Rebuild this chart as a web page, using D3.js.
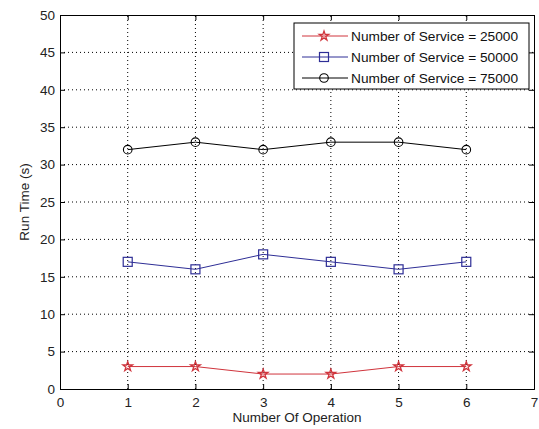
<!DOCTYPE html>
<html>
<head>
<meta charset="utf-8">
<script src="https://cdn.jsdelivr.net/npm/d3@7"></script>
<style>
  html, body { margin: 0; padding: 0; background: #fff; }
  svg { display: block; font-family: "Liberation Sans", Arial, sans-serif; }
</style>
</head>
<body>
<svg id="chart" width="539" height="429"></svg>
<script>
// Run time per operation for three service counts
const operations = [1, 2, 3, 4, 5, 6];
const run25000 = [3, 3, 2, 2, 3, 3];
const run50000 = [17, 16, 18, 17, 16, 17];
const run75000 = [32, 33, 32, 33, 33, 32];
const seriesNames = [
  "Number of Service = 25000",
  "Number of Service = 50000",
  "Number of Service = 75000"
];
const xTicks = [0, 1, 2, 3, 4, 5, 6, 7];
const yTicks = [0, 5, 10, 15, 20, 25, 30, 35, 40, 45, 50];

const series = [
  { name: seriesNames[0], values: run25000, color: "#d0343c", marker: "star" },
  { name: seriesNames[1], values: run50000, color: "#2e2e96", marker: "square" },
  { name: seriesNames[2], values: run75000, color: "#000000", marker: "circle" }
];

const svg = d3.select("#chart");
const m = { left: 60, right: 5, top: 15, bottom: 40 };
const W = 539, H = 429;
const x = d3.scaleLinear().domain([0, 7]).range([m.left, W - m.right]);
const y = d3.scaleLinear().domain([0, 50]).range([H - m.bottom, m.top]);

// dotted grid
const grid = svg.append("g");
xTicks.slice(1, -1).forEach(t => {
  grid.append("line").attr("x1", x(t)).attr("x2", x(t))
    .attr("y1", y(0)).attr("y2", y(50))
    .attr("stroke", "#000").attr("stroke-width", 1).attr("stroke-dasharray", "1,3");
});
yTicks.slice(1, -1).forEach(t => {
  grid.append("line").attr("x1", x(0)).attr("x2", x(7))
    .attr("y1", y(t)).attr("y2", y(t))
    .attr("stroke", "#000").attr("stroke-width", 1).attr("stroke-dasharray", "1,3");
});

// axes with inward ticks on all four sides
const fs = "13.5px";
const axB = svg.append("g").attr("transform", `translate(0,${y(0)})`)
  .call(d3.axisBottom(x).tickValues(xTicks).tickSize(-5).tickPadding(8).tickFormat(d3.format("d")));
const axL = svg.append("g").attr("transform", `translate(${x(0)},0)`)
  .call(d3.axisLeft(y).tickValues(yTicks).tickSize(-5).tickPadding(5).tickFormat(d3.format("d")));
const axT = svg.append("g").attr("transform", `translate(0,${y(50)})`)
  .call(d3.axisTop(x).tickValues(xTicks).tickSize(-5).tickFormat(""));
const axR = svg.append("g").attr("transform", `translate(${x(7)},0)`)
  .call(d3.axisRight(y).tickValues(yTicks).tickSize(-5).tickFormat(""));
[axB, axL, axT, axR].forEach(a => {
  a.select(".domain").attr("stroke", "#000");
  a.selectAll(".tick line").attr("stroke", "#000");
  a.selectAll(".tick text").attr("fill", "#222").style("font-size", fs)
    .style("font-family", "'Liberation Sans', Arial, sans-serif");
});

// axis titles
svg.append("text").attr("x", (x(0) + x(7)) / 2).attr("y", 422)
  .attr("text-anchor", "middle").style("font-size", fs).attr("fill", "#222")
  .text("Number Of Operation");
svg.append("text")
  .attr("transform", `translate(29,${(y(0) + y(50)) / 2}) rotate(-90)`)
  .attr("text-anchor", "middle").style("font-size", fs).attr("fill", "#222")
  .text("Run Time (s)");

// markers
const starPath = d3.symbol().type(d3.symbolStar).size(28)();
function drawMarker(g, type, cx, cy, color) {
  if (type === "star") {
    g.append("path").attr("d", starPath).attr("transform", `translate(${cx},${cy})`)
      .attr("fill", "none").attr("stroke", color).attr("stroke-width", 1.3);
  } else if (type === "square") {
    g.append("rect").attr("x", cx - 4.5).attr("y", cy - 4.5).attr("width", 9).attr("height", 9)
      .attr("fill", "none").attr("stroke", color).attr("stroke-width", 1.2);
  } else {
    g.append("circle").attr("cx", cx).attr("cy", cy).attr("r", 4.3)
      .attr("fill", "none").attr("stroke", color).attr("stroke-width", 1.1);
  }
}

const line = d3.line().x((d, i) => x(operations[i])).y(d => y(d));
series.forEach(s => {
  const g = svg.append("g");
  g.append("path").datum(s.values).attr("d", line)
    .attr("fill", "none").attr("stroke", s.color).attr("stroke-width", 1);
  s.values.forEach((v, i) => drawMarker(g, s.marker, x(operations[i]), y(v), s.color));
});

// legend
const lg = svg.append("g").attr("transform", "translate(294,23)");
lg.append("rect").attr("width", 235).attr("height", 66)
  .attr("fill", "#fff").attr("stroke", "#000").attr("stroke-width", 1);
series.forEach((s, i) => {
  const ly = 13 + i * 21;
  lg.append("line").attr("x1", 8).attr("x2", 54).attr("y1", ly).attr("y2", ly)
    .attr("stroke", s.color).attr("stroke-width", 1);
  drawMarker(lg, s.marker, 30, ly, s.color);
  lg.append("text").attr("x", 57).attr("y", ly + 5)
    .style("font-size", "13.7px").attr("fill", "#111").text(s.name);
});
</script>
</body>
</html>
